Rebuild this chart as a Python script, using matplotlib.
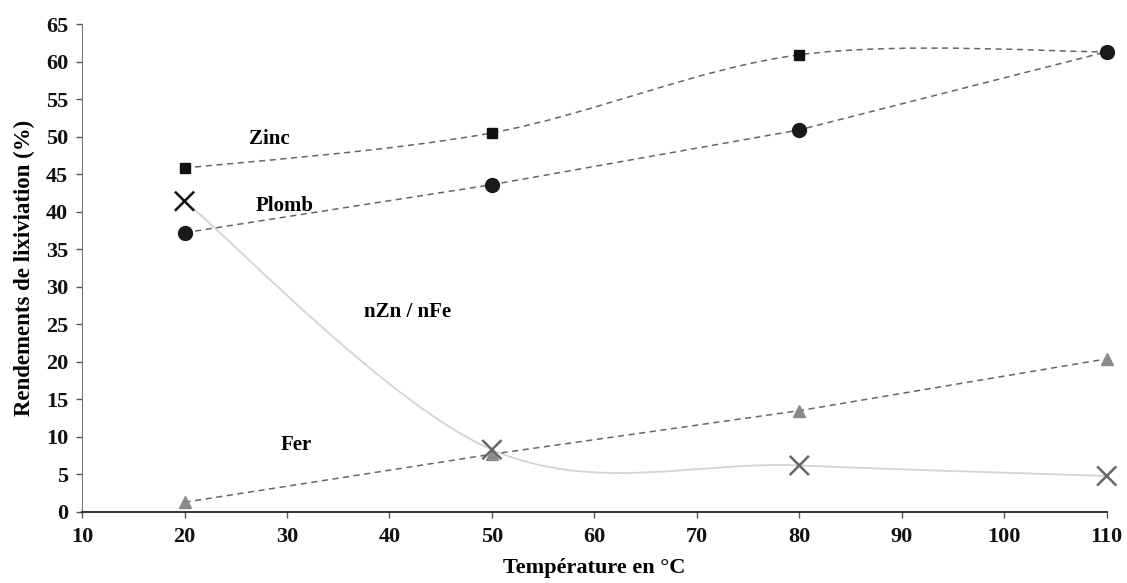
import matplotlib
matplotlib.use("Agg")
import matplotlib.pyplot as plt
from matplotlib.path import Path
import matplotlib.patches as patches

# temperatures (°C) and leaching yields (%)
temperatures = [20, 50, 80, 110]
zinc = [45.8, 50.5, 60.9, 61.3]
plomb = [37.2, 43.6, 50.9, 61.3]
fer = [1.3, 7.7, 13.5, 20.4]
ratio_zn_fe = [41.4, 8.3, 6.2, 4.8]

x_ticks = [10, 20, 30, 40, 50, 60, 70, 80, 90, 100, 110]
y_ticks = list(range(0, 70, 5))

plt.rcParams['font.family'] = ['Liberation Serif', 'DejaVu Serif']
plt.rcParams['font.weight'] = 'bold'


def smooth_path(xs, ys):
    # Excel-like smoothed line: cubic Bezier through each point
    pts = list(zip(xs, ys))
    n = len(pts)
    verts = [pts[0]]
    codes = [Path.MOVETO]
    for i in range(n - 1):
        p0 = pts[max(i - 1, 0)]
        p1 = pts[i]
        p2 = pts[i + 1]
        p3 = pts[min(i + 2, n - 1)]
        c1 = (p1[0] + (p2[0] - p0[0]) / 6, p1[1] + (p2[1] - p0[1]) / 6)
        c2 = (p2[0] - (p3[0] - p1[0]) / 6, p2[1] - (p3[1] - p1[1]) / 6)
        verts += [c1, c2, p2]
        codes += [Path.CURVE4] * 3
    return Path(verts, codes)


fig = plt.figure(figsize=(11.27, 5.83), dpi=100)
ax = fig.add_axes([0.0728, 0.1218, 0.9092, 0.837])

# lines
ax.add_patch(patches.PathPatch(smooth_path(temperatures, ratio_zn_fe), fill=False,
                               edgecolor='#d4d4d4', lw=1.3, zorder=1, clip_on=False))
ax.add_patch(patches.PathPatch(smooth_path(temperatures, zinc), fill=False,
                               edgecolor='#666666', lw=1.1, ls=(0, (4, 3)), zorder=2,
                               clip_on=False))
ax.plot(temperatures, plomb, color='#666666', lw=1.1, ls=(0, (4, 3)), zorder=2)
ax.plot(temperatures, fer, color='#666666', lw=1.1, ls=(0, (4, 3)), zorder=2)

# markers
ax.plot(temperatures, zinc, ls='none', marker='s', ms=7, color='#111111', zorder=3,
        clip_on=False)
ax.plot(temperatures, plomb, ls='none', marker='o', ms=10, color='#1a1a1a', zorder=3,
        clip_on=False)
ax.plot(temperatures, fer, ls='none', marker='^', ms=9, color='#8a8a8a', zorder=3,
        clip_on=False)
ax.scatter(temperatures, ratio_zn_fe, marker='x', s=190, linewidths=1.8,
           c=['#111111', '#666666', '#666666', '#666666'], zorder=4, clip_on=False)

# series labels
label_size = 15
ax.text(28.3, 49.7, 'Zinc', ha='center', va='center', fontsize=label_size, fontweight='bold')
ax.text(29.8, 40.7, 'Plomb', ha='center', va='center', fontsize=label_size, fontweight='bold')
ax.text(41.8, 26.7, 'nZn / nFe', ha='center', va='center', fontsize=label_size,
        fontweight='bold')
ax.text(30.9, 8.9, 'Fer', ha='center', va='center', fontsize=label_size, fontweight='bold')

ax.set_xlim(10, 110)
ax.set_ylim(0, 65)
ax.set_xticks(x_ticks)
ax.set_yticks(y_ticks)
ax.tick_params(axis='both', direction='out', length=4, width=1, colors='#555555',
               labelcolor='#111111', labelsize=16)
ax.tick_params(axis='x', pad=7)
ax.tick_params(axis='y', pad=6)

for side in ['top', 'right']:
    ax.spines[side].set_visible(False)
ax.spines['left'].set_color('#777777')
ax.spines['bottom'].set_color('#222222')
ax.spines['bottom'].set_linewidth(1.3)

ax.set_xlabel('Température en °C', fontsize=16, fontweight='bold', labelpad=8)
ax.set_ylabel('Rendements de lixiviation (%)', fontsize=16.5, fontweight='bold', labelpad=8)

fig.savefig('out.png', dpi=100)
